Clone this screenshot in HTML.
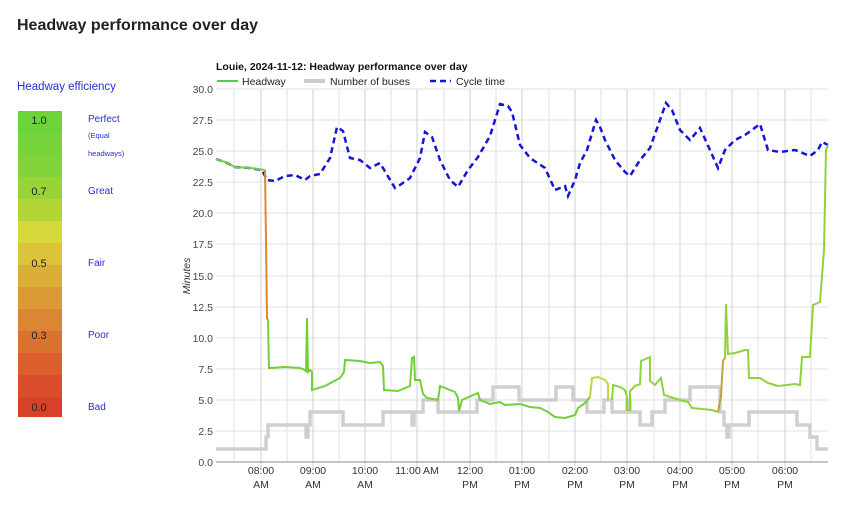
<!DOCTYPE html>
<html><head><meta charset="utf-8"><style>
body{margin:0;background:#fff;width:853px;height:512px;overflow:hidden;font-family:"Liberation Sans",sans-serif}
</style></head><body>
<svg width="853" height="512" viewBox="0 0 853 512" xmlns="http://www.w3.org/2000/svg" font-family="Liberation Sans, sans-serif">
<text x="17" y="30" font-size="16" font-weight="bold" fill="#222">Headway performance over day</text>
<text x="17" y="90" font-size="11.5" fill="#2b2bd9">Headway efficiency</text>
<g>
<rect x="18" y="111" width="44" height="22" fill="#6dd33a"/>
<rect x="18" y="133" width="44" height="22" fill="#74d43a"/>
<rect x="18" y="155" width="44" height="22" fill="#80d439"/>
<rect x="18" y="177" width="44" height="22" fill="#98d437"/>
<rect x="18" y="199" width="44" height="22" fill="#b3d636"/>
<rect x="18" y="221" width="44" height="22" fill="#d5d93a"/>
<rect x="18" y="243" width="44" height="22" fill="#dcc43a"/>
<rect x="18" y="265" width="44" height="22" fill="#dbae38"/>
<rect x="18" y="287" width="44" height="22" fill="#dc9a36"/>
<rect x="18" y="309" width="44" height="22" fill="#db8633"/>
<rect x="18" y="331" width="44" height="22" fill="#db7330"/>
<rect x="18" y="353" width="44" height="22" fill="#da5f2d"/>
<rect x="18" y="375" width="44" height="22" fill="#d94d2b"/>
<rect x="18" y="397" width="44" height="20" fill="#d84129"/>
</g>
<g font-size="11" fill="#222" text-anchor="middle">
<text x="39" y="124">1.0</text><text x="39" y="195">0.7</text><text x="39" y="267">0.5</text><text x="39" y="339">0.3</text><text x="39" y="411">0.0</text>
</g>
<g font-size="10" fill="#2b2bd9">
<text x="88" y="122">Perfect</text>
<text x="88" y="138" font-size="7.5">(Equal</text>
<text x="88" y="156" font-size="7.5">headways)</text>
<text x="88" y="194">Great</text>
<text x="88" y="266">Fair</text>
<text x="88" y="338">Poor</text>
<text x="88" y="410">Bad</text>
</g>
<text x="216" y="70" font-size="10.5" font-weight="bold" fill="#111">Louie, 2024-11-12: Headway performance over day</text>
<line x1="217" y1="81" x2="238" y2="81" stroke="#4cd33a" stroke-width="2"/>
<text x="242" y="85" font-size="10.5" fill="#222">Headway</text>
<line x1="304" y1="81" x2="325" y2="81" stroke="#ccc" stroke-width="4"/>
<text x="330" y="85" font-size="10.5" fill="#222">Number of buses</text>
<line x1="430" y1="81" x2="451" y2="81" stroke="#1515d8" stroke-width="2.5" stroke-dasharray="6,4"/>
<text x="456" y="85" font-size="10.5" fill="#222">Cycle time</text>
<g stroke="#e2e2e2" stroke-width="1">
<line x1="216" y1="89" x2="828" y2="89"/><line x1="216" y1="120" x2="828" y2="120"/><line x1="216" y1="151" x2="828" y2="151"/><line x1="216" y1="182" x2="828" y2="182"/><line x1="216" y1="213" x2="828" y2="213"/><line x1="216" y1="244" x2="828" y2="244"/><line x1="216" y1="276" x2="828" y2="276"/><line x1="216" y1="307" x2="828" y2="307"/><line x1="216" y1="338" x2="828" y2="338"/><line x1="216" y1="369" x2="828" y2="369"/><line x1="216" y1="400" x2="828" y2="400"/><line x1="216" y1="431" x2="828" y2="431"/>
<line x1="234" y1="89" x2="234" y2="462"/><line x1="261" y1="89" x2="261" y2="470" stroke="#d0d0d0"/><line x1="287" y1="89" x2="287" y2="462"/><line x1="313" y1="89" x2="313" y2="470" stroke="#d0d0d0"/><line x1="339" y1="89" x2="339" y2="462"/><line x1="365" y1="89" x2="365" y2="470" stroke="#d0d0d0"/><line x1="391" y1="89" x2="391" y2="462"/><line x1="417" y1="89" x2="417" y2="470" stroke="#d0d0d0"/><line x1="444" y1="89" x2="444" y2="462"/><line x1="470" y1="89" x2="470" y2="470" stroke="#d0d0d0"/><line x1="496" y1="89" x2="496" y2="462"/><line x1="522" y1="89" x2="522" y2="470" stroke="#d0d0d0"/><line x1="549" y1="89" x2="549" y2="462"/><line x1="575" y1="89" x2="575" y2="470" stroke="#d0d0d0"/><line x1="601" y1="89" x2="601" y2="462"/><line x1="627" y1="89" x2="627" y2="470" stroke="#d0d0d0"/><line x1="654" y1="89" x2="654" y2="462"/><line x1="680" y1="89" x2="680" y2="470" stroke="#d0d0d0"/><line x1="706" y1="89" x2="706" y2="462"/><line x1="732" y1="89" x2="732" y2="470" stroke="#d0d0d0"/><line x1="758" y1="89" x2="758" y2="462"/><line x1="785" y1="89" x2="785" y2="470" stroke="#d0d0d0"/><line x1="811" y1="89" x2="811" y2="462"/>
</g>
<line x1="216" y1="462" x2="828" y2="462" stroke="#888" stroke-width="1"/>
<g font-size="10.5" fill="#444" text-anchor="end">
<text x="213" y="93">30.0</text><text x="213" y="124">27.5</text><text x="213" y="155">25.0</text><text x="213" y="186">22.5</text><text x="213" y="217">20.0</text><text x="213" y="248">17.5</text><text x="213" y="280">15.0</text><text x="213" y="311">12.5</text><text x="213" y="342">10.0</text><text x="213" y="373">7.5</text><text x="213" y="404">5.0</text><text x="213" y="435">2.5</text><text x="213" y="466">0.0</text>
</g>
<text transform="translate(190,276) rotate(-90)" font-size="10.5" font-style="italic" fill="#333" text-anchor="middle">Minutes</text>
<g font-size="10.5" fill="#333" text-anchor="middle">
<text x="261" y="474">08:00</text><text x="261" y="488">AM</text>
<text x="313" y="474">09:00</text><text x="313" y="488">AM</text>
<text x="365" y="474">10:00</text><text x="365" y="488">AM</text>
<text x="417" y="474">11:00 AM</text>
<text x="470" y="474">12:00</text><text x="470" y="488">PM</text>
<text x="522" y="474">01:00</text><text x="522" y="488">PM</text>
<text x="575" y="474">02:00</text><text x="575" y="488">PM</text>
<text x="627" y="474">03:00</text><text x="627" y="488">PM</text>
<text x="680" y="474">04:00</text><text x="680" y="488">PM</text>
<text x="732" y="474">05:00</text><text x="732" y="488">PM</text>
<text x="785" y="474">06:00</text><text x="785" y="488">PM</text>
</g>
<polyline fill="none" stroke="#cfcfcf" stroke-width="3.5" points="216,449 266,449 266,437 268,437 268,425 306,425 306,437 308,437 308,425 310,425 310,412 343,412 343,425 383,425 383,412 412,412 412,425 414,425 414,412 423,412 423,400 438,400 438,412 477,412 477,400 493,400 493,387 519,387 519,400 556,400 556,387 573,387 573,400 587,400 587,412 604,412 604,400 612,400 612,412 627,412 627,400 630,400 630,412 640,412 640,425 652,425 652,412 665,412 665,400 690,400 690,387 720,387 720,412 724,412 724,425 727,425 727,437 729,437 729,425 749,425 749,412 797,412 797,425 810,425 810,437 817,437 817,449 828,449"/>
<polyline fill="none" stroke="#1515d8" stroke-width="2.5" stroke-dasharray="6,4" points="216,159 225,162 235,167 250,168 262,170 267,180 275,181 285,176 295,175 305,180 310,176 320,174 330,158 337,127 343,131 350,158 360,160 370,168 380,163 395,188 400,185 410,178 420,158 425,132 432,137 440,160 450,180 458,187 468,170 478,157 490,136 500,104 508,106 512,112 520,145 530,158 545,168 555,190 565,186 568,196 575,180 580,163 587,150 596,120 600,127 605,140 615,160 625,172 630,176 640,160 650,148 660,120 666,103 672,110 680,130 690,140 700,128 710,150 718,168 725,150 735,140 745,135 760,124 768,150 780,152 795,150 810,156 818,150 822,142 828,145"/>
<polyline fill="none" stroke="#72cf3a" stroke-width="2" points="216,159 225,162 235,167 250,168 265,170"/>
<polyline fill="none" stroke="#e0862f" stroke-width="2" points="265,170 266,240 267,318 268,320"/>
<polyline fill="none" stroke="#72cf3a" stroke-width="2" points="268,320 269,368 285,367 300,368 305,370 306,372 307,318 308,372 310,370 312,372 312,390 325,386 340,378 344,372 345,360 360,361 370,363 380,362 383,366 384,390 398,391 410,386 412,358 414,357 415,380 420,380 423,394 427,398 438,400 440,386 455,392 458,398 459,411 462,400 478,393 480,400 490,404 500,402 505,405 520,404 530,407 540,408 548,412 555,417 565,418 575,415 578,408 585,403 590,397"/>
<polyline fill="none" stroke="#c3d63a" stroke-width="2" points="590,397 592,378 598,377 605,380 608,384 608,400"/>
<polyline fill="none" stroke="#8fd23a" stroke-width="2" points="612,400 613,385 620,387 625,390 627,397 627,410 630,410 630,391 635,386 640,384 641,361 650,357 650,381 655,385 661,378 664,395 680,400 688,402 692,408 702,409 712,410 718,412"/>
<polyline fill="none" stroke="#c0a33a" stroke-width="2" points="718,412 721,396 723,361 725,358"/>
<polyline fill="none" stroke="#8fd23a" stroke-width="2" points="725,358 726,304 728,354 735,353 745,350 748,350 749,378 760,378 768,383 778,386 795,384 800,385 802,357 810,357 813,305 820,302 824,250 826,150 828,145"/>
</svg>
</body></html>
